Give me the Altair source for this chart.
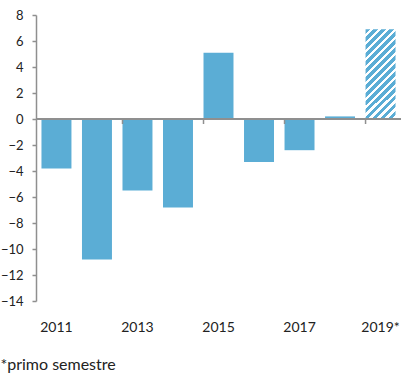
import altair as alt
import pandas as pd

years = ["2011", "2012", "2013", "2014", "2015", "2016", "2017", "2018", "2019"]
values = [-3.8, -10.8, -5.5, -6.8, 5.1, -3.3, -2.4, 0.2, 6.9]
partial = [False, False, False, False, False, False, False, False, True]
label_years = ["2011", "2013", "2015", "2017", "2019"]
tick_years = ["2013", "2015", "2017", "2019"]
y_ticks = list(range(-14, 9, 2))
footnote = "*primo semestre"

BLUE = "#5BADD5"
GRAY = "#8f8f8f"
FONT = "Lato"

df = pd.DataFrame({"year": years, "value": values, "partial": partial})

# diagonal stripes via hard-stop linear gradient
n_stripes = 15
stops = []
for k in range(n_stripes):
    a = k / n_stripes
    b = (k + 0.55) / n_stripes
    c = (k + 1) / n_stripes
    stops += [
        alt.GradientStop(color=BLUE, offset=a),
        alt.GradientStop(color=BLUE, offset=b),
        alt.GradientStop(color="#ffffff", offset=b),
        alt.GradientStop(color="#ffffff", offset=c),
    ]
hatch = alt.LinearGradient(gradient="linear", stops=stops, x1=0, y1=0, x2=0.4, y2=1.2)

xscale = alt.Scale(paddingInner=0.26, paddingOuter=0.135)
x_enc = alt.X(
    "year:N",
    scale=xscale,
    sort=years,
    axis=alt.Axis(
        values=label_years,
        labelExpr="datum.value == '2019' ? '2019*' : datum.value",
        domain=False,
        ticks=False,
        labelAngle=0,
        labelPadding=19,
        labelFontSize=14,
        labelFont=FONT,
        labelColor="#222222",
        title=None,
    ),
)
yscale = alt.Scale(domain=[-14, 8], nice=False, zero=False)
y_axis = alt.Axis(
    values=y_ticks,
    grid=False,
    labelOverlap=False,
    title=None,
)
y_enc = alt.Y("value:Q", scale=yscale, axis=y_axis)

base = alt.Chart(df)

bars = base.transform_filter("!datum.partial").mark_bar(color=BLUE).encode(x=x_enc, y=y_enc)
hatched = base.transform_filter("datum.partial").mark_bar(fill=hatch).encode(x=x_enc, y=y_enc)

zero = base.mark_rule(color=GRAY, strokeWidth=2).encode(
    y=alt.Y(datum=0, scale=yscale, axis=y_axis)
)

ticks_df = pd.DataFrame({"year": tick_years})
ticks = alt.Chart(ticks_df).mark_rule(color=GRAY, strokeWidth=1.5, y2Offset=5).encode(
    x=alt.X("year:N", bandPosition=0, sort=years),
    y=alt.Y(datum=0, scale=yscale, axis=y_axis),
    y2=alt.datum(0),
)

chart = (
    alt.layer(bars, hatched, zero, ticks)
    .properties(
        width=365,
        height=286,
        padding={"left": 0, "top": 9, "right": 8, "bottom": 5},
        title=alt.TitleParams(
            footnote,
            orient="bottom",
            anchor="start",
            frame="bounds",
            fontSize=16,
            font=FONT,
            fontWeight="normal",
            color="#222222",
            offset=23,
        ),
    )
    .configure_view(stroke=None)
    .configure_axisY(
        labelOverlap=False,
        domainColor=GRAY,
        domainWidth=1.5,
        tickColor=GRAY,
        tickWidth=1.5,
        tickSize=4,
        labelFontSize=13,
        labelFont=FONT,
        labelColor="#222222",
        labelPadding=9,
    )
)

chart.save("out.html", embed_options={"renderer": "svg", "actions": False})
